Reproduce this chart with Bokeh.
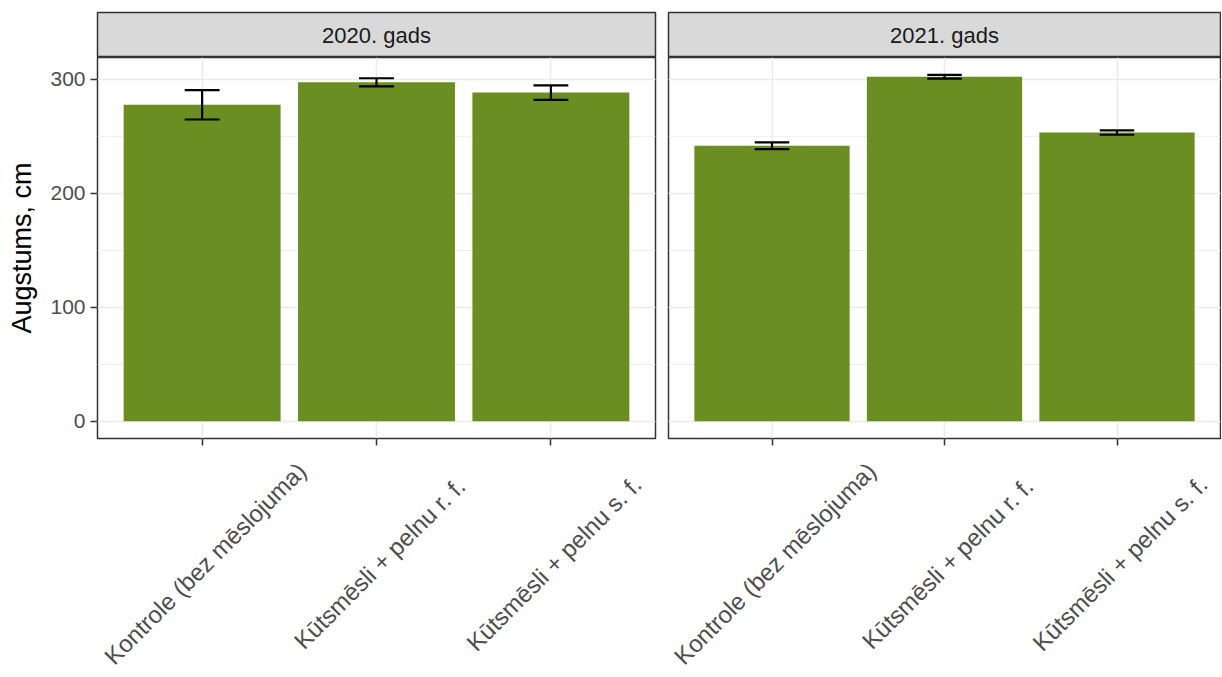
from bokeh.plotting import figure
from bokeh.models import Range1d, FixedTicker, SingleIntervalTicker, Label
from bokeh.layouts import row, column
from bokeh.embed import file_html
from bokeh.resources import INLINE

# ---- data ----
years = ["2020. gads", "2021. gads"]
treatments = ["Kontrole (bez mēslojuma)", "Kūtsmēsli + pelnu r. f.", "Kūtsmēsli + pelnu s. f."]
height_2020 = [277.7, 297.4, 288.4]
err_2020 = [12.9, 3.6, 6.4]
height_2021 = [241.7, 302.3, 253.3]
err_2021 = [3.0, 1.7, 1.9]
y_label = "Augstums, cm"

heights = [height_2020, height_2021]
errors = [err_2020, err_2021]

FONT = "Liberation Sans"
BAR = "#6B8E23"
GRID = "#ebebeb"
BORDER = "#333333"

ymax = max(h + e for hs, es in zip(heights, errors) for h, e in zip(hs, es))
ymin = 0.0
span = ymax - ymin
y_lo, y_hi = ymin - 0.05 * span, ymax + 0.05 * span
n = len(treatments)
xs = list(range(1, n + 1))
X_LO, X_HI = 0.4, n + 0.6

# layout (pixels)
LEFTS = [97, 7]
RIGHTS = [6, 1]
FRAME_WS = [558, 552]
TOP = 12
STRIP_H = 45
FRAME_H = 381
TICK_AREA = 14
LABEL_H = 224


def make_panel(i):
    left, right, fw = LEFTS[i], RIGHTS[i], FRAME_WS[i]
    width = left + fw + right
    xr = Range1d(X_LO, X_HI)

    strip = figure(width=width, height=STRIP_H + TOP, x_range=xr, y_range=Range1d(0, 1),
                   output_backend="svg", toolbar_location=None,
                   min_border_left=left, min_border_right=right,
                   min_border_top=TOP, min_border_bottom=0)
    strip.axis.visible = False
    strip.grid.visible = False
    strip.background_fill_color = "#d9d9d9"
    strip.border_fill_color = "white"
    strip.outline_line_color = BORDER
    strip.outline_line_width = 1.5
    strip.add_layout(Label(x=(xs[0] + xs[-1]) / 2, y=0.5, text=years[i],
                           text_align="center", text_baseline="middle",
                           text_font=FONT, text_font_size="22px", text_color="#1a1a1a"))

    p = figure(width=width, height=FRAME_H + TICK_AREA, x_range=xr, y_range=Range1d(y_lo, y_hi),
               output_backend="svg", toolbar_location=None,
               min_border_left=left, min_border_right=right,
               min_border_top=0, min_border_bottom=TICK_AREA)
    p.background_fill_color = "white"
    p.border_fill_color = "white"
    p.outline_line_color = BORDER
    p.outline_line_width = 1.5

    yt = SingleIntervalTicker(interval=100, num_minor_ticks=2)
    p.yaxis.ticker = yt
    p.ygrid.ticker = yt
    p.xaxis.ticker = FixedTicker(ticks=xs)
    p.xgrid.ticker = FixedTicker(ticks=xs)
    p.xgrid.grid_line_color = GRID
    p.xgrid.grid_line_width = 1.5
    p.ygrid.grid_line_color = GRID
    p.ygrid.grid_line_width = 1.5
    p.ygrid.minor_grid_line_color = GRID
    p.ygrid.minor_grid_line_width = 0.8

    for ax in p.axis:
        ax.axis_line_color = None
        ax.major_tick_line_color = BORDER
        ax.major_tick_line_width = 1.5
        ax.major_tick_out = 7
        ax.major_tick_in = 0
        ax.minor_tick_line_color = None
        ax.major_label_text_font = FONT
        ax.major_label_text_font_size = "21px"
        ax.major_label_text_color = "#4d4d4d"
        ax.major_label_standoff = 5
    p.xaxis.major_label_overrides = {x: "" for x in xs}
    p.xaxis.major_label_text_font_size = "1px"
    p.xaxis.major_label_standoff = 0

    if i == 0:
        p.yaxis.axis_label = y_label
        p.yaxis.axis_label_text_font = FONT
        p.yaxis.axis_label_text_font_size = "27px"
        p.yaxis.axis_label_text_font_style = "normal"
        p.yaxis.axis_label_text_color = "black"
        p.yaxis.axis_label_standoff = 10
    else:
        p.yaxis.visible = False

    vals = heights[i]
    errs = errors[i]
    p.vbar(x=xs, top=vals, bottom=0, width=0.9, fill_color=BAR, line_color=None)
    lo = [v - e for v, e in zip(vals, errs)]
    hi = [v + e for v, e in zip(vals, errs)]
    p.segment(x0=xs, y0=lo, x1=xs, y1=hi, line_color="black", line_width=2.2)
    cap = 0.1
    p.segment(x0=[x - cap for x in xs], y0=lo, x1=[x + cap for x in xs], y1=lo,
              line_color="black", line_width=2.2)
    p.segment(x0=[x - cap for x in xs], y0=hi, x1=[x + cap for x in xs], y1=hi,
              line_color="black", line_width=2.2)
    return column(strip, p), width


panels = [make_panel(i) for i in range(len(years))]
total_w = sum(w for _, w in panels)

# rotated category labels, in a strip below both panels (pixel coordinate space)
lab = figure(width=total_w, height=LABEL_H, x_range=Range1d(0, total_w), y_range=Range1d(0, LABEL_H),
             output_backend="svg", toolbar_location=None,
             min_border_left=0, min_border_right=0, min_border_top=0, min_border_bottom=0)
lab.axis.visible = False
lab.grid.visible = False
lab.outline_line_color = None
lab.background_fill_color = "white"
lab.border_fill_color = "white"

LABEL_DROP = 111  # distance from top of the label strip to label centre
offset = 0
for i, (_, w) in enumerate(panels):
    x0 = offset + LEFTS[i]
    scale = FRAME_WS[i] / (X_HI - X_LO)
    for x, t in zip(xs, treatments):
        lab.add_layout(Label(x=x0 + (x - X_LO) * scale + 3,
                             y=LABEL_H - LABEL_DROP,
                             text=t, angle=45, angle_units="deg",
                             text_align="center", text_baseline="middle",
                             text_font=FONT, text_font_size="24px", text_color="#4d4d4d"))
    offset += w

layout = column(row(*[c for c, _ in panels]), lab)

with open("out.html", "w") as f:
    f.write(file_html(layout, INLINE))
